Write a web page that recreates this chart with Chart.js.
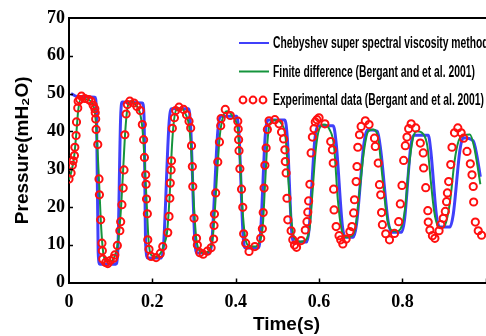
<!DOCTYPE html>
<html>
<head>
<meta charset="utf-8">
<script src="https://cdn.jsdelivr.net/npm/chart.js@4"></script>
<style>
html, body { margin: 0; padding: 0; background: #fff; overflow: hidden; }
#wrap { width: 510px; height: 336px; }
</style>
</head>
<body>
<div id="wrap"><canvas id="chart" width="510" height="336"></canvas></div>
<script>
// Chebyshev super spectral viscosity method (time s, pressure mH2O)
const chebT = [0.005, 0.02, 0.062, 0.066, 0.070, 0.074, 0.112, 0.117, 0.124, 0.128, 0.176, 0.180, 0.184, 0.189, 0.222, 0.227, 0.240, 0.246, 0.287, 0.292, 0.302, 0.308, 0.338, 0.343, 0.357, 0.364, 0.402, 0.408, 0.418, 0.424, 0.453, 0.459, 0.471, 0.478, 0.518, 0.524, 0.534, 0.540, 0.570, 0.576, 0.590, 0.598, 0.634, 0.641, 0.656, 0.663, 0.682, 0.690, 0.708, 0.716, 0.740, 0.748, 0.766, 0.775, 0.798, 0.805, 0.820, 0.828, 0.862, 0.868, 0.882, 0.890, 0.914, 0.922, 0.938, 0.946, 0.970, 0.978, 0.987];
const chebP = [50, 49.2, 49, 45, 8, 4.8, 4.8, 8, 44, 47.8, 47.5, 44, 10, 6.5, 6.5, 10, 42, 46, 46, 41, 11, 7.8, 7.8, 11, 40, 44, 44, 39, 12, 9.1, 9.1, 12, 39, 43, 43, 38, 14, 10.7, 10.7, 14, 38, 41.5, 41.5, 37, 15, 12, 12, 15.5, 37, 40.4, 40, 35, 16, 13.3, 13.3, 16.5, 36, 39, 39, 35, 17.5, 14.7, 14.7, 18, 35, 38.3, 37.5, 34, 28];

// Finite difference (Bergant and et al. 2001)
const fdT = [0, 0.006, 0.012, 0.018, 0.022, 0.028, 0.04, 0.055, 0.062, 0.066, 0.072, 0.077, 0.082, 0.088, 0.1, 0.108, 0.115, 0.12, 0.125, 0.13, 0.135, 0.14, 0.148, 0.16, 0.17, 0.176, 0.181, 0.186, 0.191, 0.197, 0.21, 0.22, 0.228, 0.236, 0.242, 0.247, 0.252, 0.26, 0.27, 0.28, 0.288, 0.294, 0.299, 0.305, 0.312, 0.325, 0.338, 0.345, 0.35, 0.356, 0.362, 0.37, 0.38, 0.395, 0.405, 0.41, 0.416, 0.422, 0.43, 0.445, 0.458, 0.465, 0.47, 0.476, 0.482, 0.495, 0.51, 0.52, 0.527, 0.534, 0.542, 0.555, 0.57, 0.578, 0.585, 0.592, 0.6, 0.612, 0.625, 0.636, 0.645, 0.654, 0.664, 0.678, 0.688, 0.698, 0.708, 0.718, 0.73, 0.742, 0.752, 0.762, 0.772, 0.785, 0.797, 0.807, 0.815, 0.825, 0.835, 0.85, 0.86, 0.868, 0.876, 0.885, 0.895, 0.905, 0.915, 0.925, 0.935, 0.948, 0.962, 0.972, 0.98, 0.987];
const fdP = [27.2, 29.5, 33, 40, 45.5, 48.5, 48.5, 47.5, 45, 40, 27, 15, 8, 5.8, 5.6, 6.6, 9, 13, 20, 30, 40, 46, 48, 47, 45, 41, 33, 22, 11, 7.3, 6.8, 7.8, 10, 14, 24, 36, 43, 46, 46, 44.5, 41.5, 34, 22, 12, 8.6, 7.8, 8.8, 12, 19, 30, 39, 44, 45.3, 43.5, 40.5, 33, 20, 12.5, 9.8, 9.5, 11, 15, 25, 37, 42, 43, 42, 38, 26, 16, 11.5, 10.8, 11.5, 15, 25, 35, 40.5, 41.8, 40.5, 36, 22, 14, 12, 12.3, 15, 25, 35, 40, 40.5, 38, 28, 18, 14, 13.5, 14.5, 20, 30, 38, 40, 39.3, 36, 27, 19, 15, 14.5, 16, 22, 32, 37.5, 39, 39.2, 36, 31, 26];

// Experimental data (Bergant and et al. 2001)
const expT = [0, 0.005, 0.008, 0.010, 0.013, 0.014, 0.017, 0.018, 0.021, 0.022, 0.026, 0.030, 0.038, 0.047, 0.053, 0.058, 0.062, 0.063, 0.064, 0.065, 0.069, 0.072, 0.073, 0.076, 0.079, 0.080, 0.081, 0.088, 0.093, 0.099, 0.107, 0.110, 0.116, 0.122, 0.124, 0.127, 0.130, 0.132, 0.134, 0.137, 0.140, 0.146, 0.156, 0.163, 0.171, 0.176, 0.179, 0.181, 0.184, 0.185, 0.186, 0.188, 0.189, 0.192, 0.197, 0.209, 0.219, 0.225, 0.237, 0.240, 0.242, 0.243, 0.245, 0.246, 0.248, 0.253, 0.256, 0.264, 0.275, 0.282, 0.288, 0.292, 0.294, 0.296, 0.297, 0.300, 0.306, 0.308, 0.314, 0.322, 0.332, 0.341, 0.347, 0.348, 0.349, 0.352, 0.357, 0.361, 0.364, 0.365, 0.375, 0.387, 0.405, 0.406, 0.407, 0.408, 0.410, 0.414, 0.417, 0.419, 0.424, 0.432, 0.446, 0.460, 0.464, 0.466, 0.468, 0.470, 0.473, 0.476, 0.480, 0.494, 0.504, 0.510, 0.515, 0.518, 0.519, 0.521, 0.523, 0.525, 0.533, 0.537, 0.541, 0.546, 0.557, 0.567, 0.571, 0.573, 0.575, 0.578, 0.581, 0.584, 0.588, 0.591, 0.595, 0.600, 0.614, 0.628, 0.632, 0.634, 0.635, 0.636, 0.641, 0.648, 0.652, 0.657, 0.665, 0.674, 0.679, 0.683, 0.685, 0.689, 0.691, 0.693, 0.697, 0.701, 0.711, 0.720, 0.733, 0.735, 0.742, 0.745, 0.748, 0.750, 0.752, 0.760, 0.769, 0.781, 0.791, 0.795, 0.799, 0.803, 0.807, 0.811, 0.815, 0.821, 0.832, 0.843, 0.850, 0.851, 0.856, 0.861, 0.862, 0.866, 0.872, 0.878, 0.888, 0.892, 0.898, 0.903, 0.906, 0.908, 0.911, 0.916, 0.919, 0.925, 0.933, 0.941, 0.947, 0.955, 0.963, 0.967, 0.970, 0.971, 0.975, 0.982, 0.990];
const expP = [27.4, 29.0, 31.0, 32.2, 33.6, 35.8, 38.9, 42.5, 46.2, 48.0, 48.4, 49.3, 48.7, 48.4, 48.0, 46.9, 46.0, 44.9, 43.3, 40.5, 36.5, 27.4, 23.2, 16.6, 10.4, 8.4, 6.2, 5.3, 5.0, 5.8, 6.4, 7.3, 9.8, 13.7, 16.1, 20.6, 25.0, 29.8, 39.1, 44.6, 47.1, 48.0, 47.5, 46.6, 45.5, 41.8, 37.8, 33.1, 28.5, 26.0, 22.1, 18.2, 11.3, 8.8, 6.9, 6.6, 7.7, 9.5, 13.2, 17.5, 22.3, 26.3, 29.8, 32.2, 40.8, 43.6, 45.5, 46.4, 45.8, 44.4, 42.7, 40.9, 36.2, 30.7, 25.4, 17.0, 11.7, 9.9, 7.9, 7.5, 8.3, 9.2, 11.5, 15.1, 18.1, 23.7, 31.9, 37.2, 41.5, 43.4, 45.8, 44.2, 42.7, 40.6, 37.8, 34.9, 30.1, 24.7, 19.9, 12.9, 10.4, 8.2, 9.5, 11.7, 14.2, 18.5, 25.0, 31.0, 35.6, 40.5, 42.8, 43.1, 42.0, 39.8, 38.0, 35.1, 32.0, 29.0, 22.3, 16.6, 13.7, 11.3, 9.9, 9.3, 11.1, 13.9, 16.1, 18.6, 21.6, 26.0, 34.3, 38.5, 40.7, 42.5, 43.1, 43.6, 42.0, 37.3, 35.1, 31.6, 24.7, 19.2, 14.8, 12.4, 11.3, 10.2, 11.5, 13.5, 14.8, 18.4, 21.9, 26.7, 30.7, 35.8, 39.1, 41.3, 42.8, 41.8, 38.2, 36.0, 31.6, 25.9, 23.2, 18.5, 15.3, 12.9, 11.3, 13.0, 16.1, 20.8, 25.7, 32.3, 36.2, 38.5, 40.7, 42.0, 40.9, 36.9, 34.3, 30.3, 25.1, 19.0, 16.0, 13.9, 12.4, 11.7, 13.7, 15.3, 17.0, 18.8, 21.4, 23.7, 26.7, 31.2, 35.8, 39.6, 40.9, 39.6, 38.2, 34.7, 31.4, 28.5, 25.4, 21.3, 16.0, 13.7, 12.5];

const legendLabels = [
    'Chebyshev super spectral viscosity method',
    'Finite difference (Bergant and et al. 2001)',
    'Experimental data (Bergant and et al. 2001)'
];

const BLUE = '#4040fa';
const GREEN = '#15943c';
const RED = '#ff1010';

const toPts = (xs, ys) => xs.map((x, i) => ({ x: x, y: ys[i] }));

// frame, inward ticks and in-plot legend
const decor = {
    id: 'decor',
    afterDraw(chart) {
        const c = chart.ctx;
        const a = chart.chartArea;
        const xs = chart.scales.x, ys = chart.scales.y;
        c.save();
        c.strokeStyle = '#000';
        c.lineWidth = 2;
        c.beginPath();
        c.moveTo(a.left - 1, a.top);
        c.lineTo(a.right, a.top);
        c.stroke();
        c.lineWidth = 1.5;
        xs.ticks.forEach(t => {
            if (t.value === 0) return;
            const px = Math.round(xs.getPixelForValue(t.value)) + 0.5;
            c.beginPath(); c.moveTo(px, a.bottom); c.lineTo(px, a.bottom - 4); c.stroke();
        });
        ys.ticks.forEach(t => {
            if (t.value === 0 || t.value === 70) return;
            const py = Math.round(ys.getPixelForValue(t.value)) + 0.5;
            c.beginPath(); c.moveTo(a.left, py); c.lineTo(a.left + 4, py); c.stroke();
        });

        // legend
        c.font = 'bold 16px "Liberation Sans", Arial, sans-serif';
        const sx = 211 / c.measureText(legendLabels[2]).width;
        c.textBaseline = 'middle';
        c.fillStyle = '#000';
        const lx = a.left + 170;
        legendLabels.forEach((lab, i) => {
            const y = 43 + i * 28.5;
            if (i < 2) {
                c.strokeStyle = i === 0 ? BLUE : GREEN;
                c.lineWidth = 2;
                c.beginPath(); c.moveTo(lx, y); c.lineTo(lx + 30, y); c.stroke();
            } else {
                c.strokeStyle = RED;
                c.lineWidth = 2;
                [4, 14, 24].forEach(dx => {
                    c.beginPath(); c.arc(lx + dx, y, 3.4, 0, Math.PI * 2); c.stroke();
                });
            }
            c.save();
            c.translate(lx + 34, y + 1);
            c.scale(sx, 1);
            c.fillText(lab, 0, 0);
            c.restore();
        });
        c.restore();
    }
};

const tickFont = { family: '"Liberation Serif", "Times New Roman", serif', weight: 'bold', size: 18 };
const titleFont = { family: '"Liberation Sans", Arial, sans-serif', weight: 'bold', size: 19 };

new Chart(document.getElementById('chart'), {
    type: 'line',
    data: {
        datasets: [
            {
                label: legendLabels[2],
                data: toPts(expT, expP),
                showLine: false,
                pointStyle: 'circle',
                pointRadius: 3.6,
                pointBorderWidth: 2,
                pointBorderColor: RED,
                pointBackgroundColor: 'rgba(0,0,0,0)',
                order: 0
            },
            {
                label: legendLabels[1],
                data: toPts(fdT, fdP),
                borderColor: GREEN,
                borderWidth: 2,
                pointRadius: 0,
                cubicInterpolationMode: 'monotone',
                order: 1
            },
            {
                label: legendLabels[0],
                data: toPts(chebT, chebP),
                borderColor: BLUE,
                borderWidth: 3,
                pointRadius: 0,
                cubicInterpolationMode: 'monotone',
                order: 2
            }
        ]
    },
    options: {
        responsive: false,
        animation: false,
        layout: { padding: { top: 18, left: 0, right: 0, bottom: 0 } },
        plugins: {
            legend: { display: false },
            tooltip: { enabled: false }
        },
        scales: {
            x: {
                type: 'linear',
                min: 0,
                max: 1.0438,
                afterFit: s => { s.height = 53.5; s.paddingRight = 0; },
                grid: { display: false, drawTicks: false },
                border: { display: true, color: '#000', width: 2 },
                ticks: {
                    stepSize: 0.2, includeBounds: false, color: '#000', font: tickFont, padding: 9, maxRotation: 0,
                    // the 1.0 label falls outside the cropped picture
                    callback: v => v > 0.9 ? '' : String(Number(v.toFixed(1)))
                },
                title: { display: true, text: 'Time(s)', color: '#000', font: titleFont, padding: { top: 0, bottom: 0 } }
            },
            y: {
                min: 0,
                max: 70,
                afterFit: s => { s.width = 69; },
                grid: { display: false, drawTicks: false },
                border: { display: true, color: '#000', width: 2 },
                ticks: { stepSize: 10, color: '#000', font: tickFont, padding: 4 },
                title: { display: true, text: 'Pressure(mH₂O)', color: '#000', font: titleFont, padding: { top: 11, bottom: 0 } }
            }
        }
    },
    plugins: [decor]
});
</script>
</body>
</html>
